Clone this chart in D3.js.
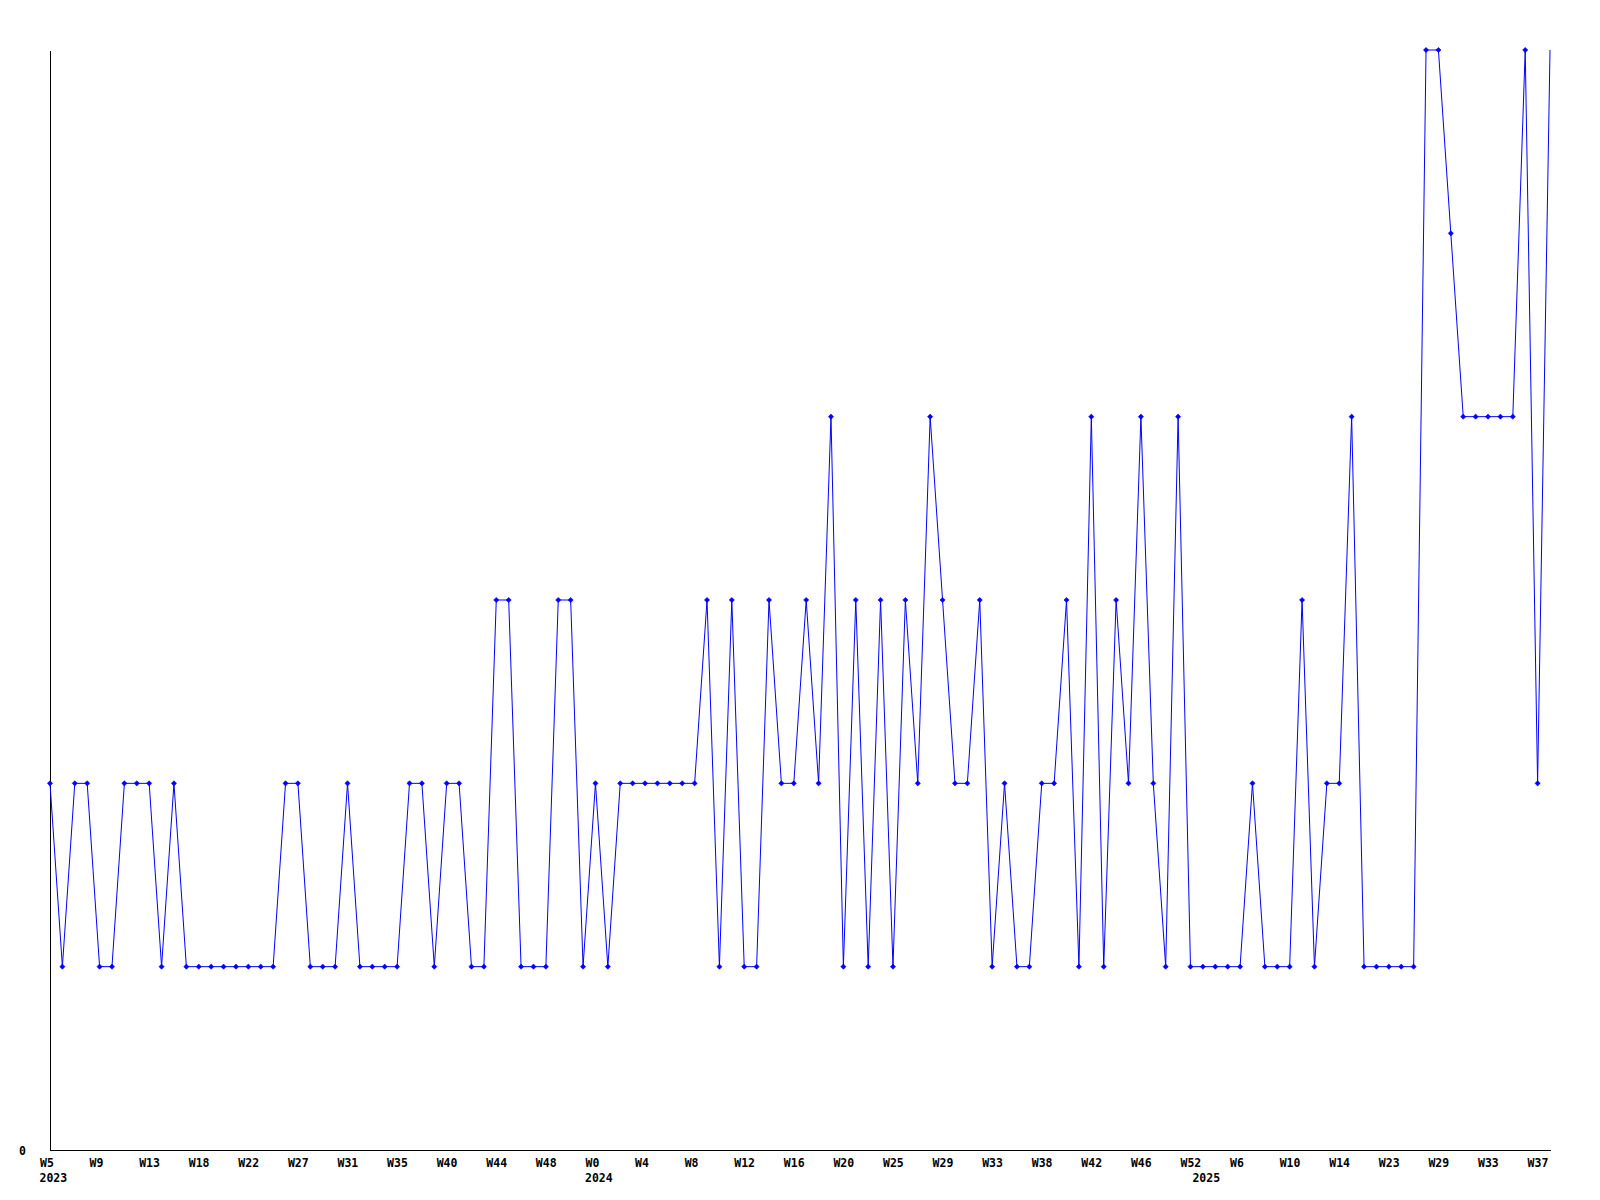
<!DOCTYPE html>
<html>
<head>
<meta charset="utf-8">
<script src="https://cdn.jsdelivr.net/npm/d3@7"></script>
<style>
  html, body { margin: 0; padding: 0; background: #fff; }
  svg { display: block; }
  .lbl { font-family: "DejaVu Sans Mono", "Liberation Mono", monospace; font-weight: bold; font-size: 11.5px; fill: #000; }
</style>
</head>
<body>
<svg id="chart" width="1600" height="1200"></svg>
<script>
// ---- data ----
const values = [
  2,1,2,2,1,1,2,2,2,1, 2,1,1,1,1,1,1,1,1,2,
  2,1,1,1,2,1,1,1,1,2, 2,1,2,2,1,1,3,3,1,1,
  1,3,3,1,2,1,2,2,2,2, 2,2,2,3,1,3,1,1,3,2,
  2,3,2,4,1,3,1,3,1,3, 2,4,3,2,2,3,1,2,1,1,
  2,2,3,1,4,1,3,2,4,2, 1,4,1,1,1,1,1,2,1,1,
  1,3,1,2,2,4,1,1,1,1, 1,6,6,5,4,4,4,4,4,6,
  2,6
];
const tickLabels = ["W5","W9","W13","W18","W22","W27","W31","W35","W40","W44","W48",
  "W0","W4","W8","W12","W16","W20","W25","W29","W33","W38","W42","W46","W52",
  "W6","W10","W14","W23","W29","W33","W37"];
const tickEvery = 4;
const yearLabels = ["2023","2024","2025"];
const yearStartIndex = [0, 44, 93];
const yTicks = [0];
const yMax = 6;

// ---- layout ----
const mLeft = 50, mRight = 1550, mTop = 50, mBottom = 1150;
const svg = d3.select("#chart");

const idx = values.map((d, i) => i);
const x = d3.scalePoint().domain(idx).range([mLeft, mRight]);
const y = d3.scaleLinear().domain([0, yMax]).range([mBottom, mTop]);

// X axis
const tickIdx = tickLabels.map((d, i) => i * tickEvery);
const xAxis = d3.axisBottom(x).tickValues(tickIdx)
  .tickFormat((d, i) => tickLabels[i]).tickSize(0).tickSizeOuter(0);
const gx = svg.append("g").attr("transform", `translate(0,${mBottom})`).call(xAxis);
gx.select(".domain").attr("stroke", "#000").attr("stroke-width", 1).attr("shape-rendering", "crispEdges");
gx.selectAll(".tick text").attr("class", "lbl").attr("text-anchor", "start")
  .attr("x", -10.5).attr("y", 17).attr("dy", null);

// year labels
svg.append("g").selectAll("text").data(yearLabels).join("text")
  .attr("class", "lbl")
  .attr("x", (d, i) => x(yearStartIndex[i]) - 10.5)
  .attr("y", mBottom + 32)
  .text(d => d);

// Y axis
const yAxis = d3.axisLeft(y).tickValues(yTicks).tickFormat(d3.format("d")).tickSize(0).tickSizeOuter(0);
const gy = svg.append("g").attr("transform", `translate(${mLeft},0)`).call(yAxis);
gy.select(".domain").attr("stroke", "#000").attr("stroke-width", 1).attr("shape-rendering", "crispEdges");
gy.selectAll(".tick text").attr("class", "lbl").attr("text-anchor", "end")
  .attr("x", -24).attr("dy", "0.38em");

// line
const line = d3.line().x((d, i) => x(i)).y(d => y(d));
svg.append("path").datum(values)
  .attr("d", line)
  .attr("fill", "none")
  .attr("stroke", "#0000ff")
  .attr("stroke-width", 1);

// markers (last point has no marker in the reference)
svg.append("g").selectAll("path").data(values.slice(0, -1)).join("path")
  .attr("d", "M0,-2.6L2.6,0L0,2.6L-2.6,0Z")
  .attr("transform", (d, i) => `translate(${x(i)},${y(d)})`)
  .attr("fill", "#0000ff")
  .attr("stroke", "#0000ff")
  .attr("stroke-width", 0.6);
</script>
</body>
</html>
